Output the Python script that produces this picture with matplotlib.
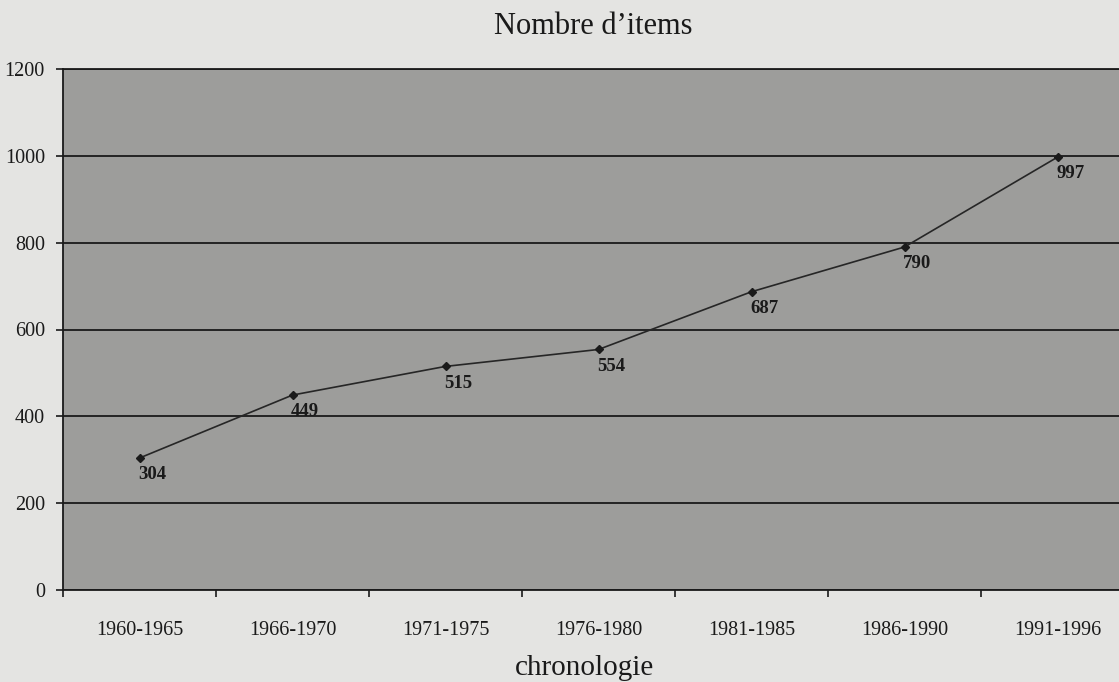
import numpy as np
import matplotlib
matplotlib.use("Agg")
import matplotlib.pyplot as plt

periods = ["1960-1965", "1966-1970", "1971-1975", "1976-1980",
           "1981-1985", "1986-1990", "1991-1996"]
items = [304, 449, 515, 554, 687, 790, 997]
yticks = [0, 200, 400, 600, 800, 1000, 1200]

plt.rcParams['font.family'] = ['Liberation Serif', 'DejaVu Serif']

fig = plt.figure(figsize=(11.19, 6.82), dpi=100)
fig.patch.set_facecolor("#e4e4e2")
ax = fig.add_axes([63/1119, 92/682, 1071/1119, 521/682])
ax.set_facecolor("#9d9d9b")

x = np.arange(len(periods))
ax.plot(x, items, color="#262626", lw=1.2, marker="D", ms=4.5,
        mfc="#1a1a1a", mec="#1a1a1a")
for xi, v in zip(x, items):
    ax.annotate(str(v), (xi, v), xytext=(-1, -6), textcoords="offset points",
                ha="left", va="top", fontsize=13.5, fontweight="bold",
                color="#1a1a1a")

ax.set_xlim(-0.5, len(periods) - 0.5)
ax.set_ylim(0, 1200)
ax.set_yticks(yticks)
ax.set_yticklabels([str(t) for t in yticks], fontsize=14.5, color="#1a1a1a")
ax.set_xticks(x)
ax.set_xticklabels(periods, fontsize=14.5, color="#1a1a1a")
ax.set_xticks(np.arange(len(periods) + 1) - 0.5, minor=True)
ax.tick_params(axis="x", which="major", length=0, pad=22)
ax.tick_params(axis="x", which="minor", length=5, width=1.2, color="#1a1a1a")
ax.tick_params(axis="y", length=5, width=1.2, color="#1a1a1a", pad=8)

ax.yaxis.grid(True, color="#1a1a1a", lw=1.3)
ax.set_axisbelow(True)
ax.spines["right"].set_visible(False)
for side in ["left", "bottom", "top"]:
    ax.spines[side].set_color("#1a1a1a")
    ax.spines[side].set_linewidth(1.3)

fig.text(593/1119, 1 - 27/682, "Nombre d\u2019items", ha="center", va="center",
         fontsize=22, color="#1a1a1a")
fig.text(585/1119, 1 - 668/682, "chronologie", ha="center", va="center",
         fontsize=21, color="#1a1a1a")

fig.savefig("out.png", dpi=100, facecolor=fig.get_facecolor())
